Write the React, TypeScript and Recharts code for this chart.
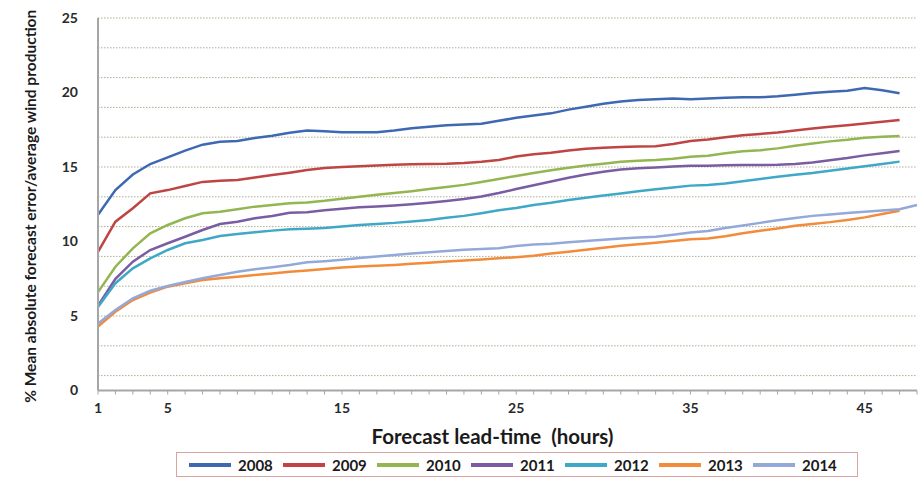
import React from 'react';
import { LineChart, Line, XAxis, YAxis, CartesianGrid, Legend } from 'recharts';

const hours = [1, 2, 3, 4, 5, 6, 7, 8, 9, 10, 11, 12, 13, 14, 15, 16, 17, 18, 19, 20, 21, 22, 23, 24, 25, 26, 27, 28, 29, 30, 31, 32, 33, 34, 35, 36, 37, 38, 39, 40, 41, 42, 43, 44, 45, 46, 47, 48];

const s2008 = [11.8, 13.45, 14.5, 15.2, 15.65, 16.1, 16.5, 16.7, 16.75, 16.95, 17.1, 17.3, 17.45, 17.4, 17.33, 17.33, 17.33, 17.45, 17.6, 17.7, 17.8, 17.85, 17.9, 18.1, 18.3, 18.45, 18.6, 18.85, 19.05, 19.25, 19.4, 19.5, 19.55, 19.6, 19.55, 19.6, 19.65, 19.68, 19.68, 19.75, 19.85, 19.97, 20.05, 20.12, 20.3, 20.15, 19.95, null];
const s2009 = [9.3, 11.33, 12.23, 13.23, 13.45, 13.72, 14.0, 14.08, 14.13, 14.3, 14.46, 14.62, 14.8, 14.93, 15.0, 15.05, 15.1, 15.15, 15.18, 15.2, 15.22, 15.27, 15.35, 15.47, 15.7, 15.85, 15.95, 16.1, 16.22, 16.3, 16.35, 16.38, 16.4, 16.55, 16.75, 16.85, 17.0, 17.13, 17.22, 17.32, 17.45, 17.58, 17.7, 17.8, 17.92, 18.03, 18.15, null];
const s2010 = [6.6, 8.31, 9.54, 10.55, 11.11, 11.56, 11.89, 12.0, 12.16, 12.34, 12.45, 12.56, 12.62, 12.73, 12.87, 13.0, 13.13, 13.25, 13.38, 13.52, 13.65, 13.8, 14.0, 14.2, 14.4, 14.6, 14.78, 14.95, 15.1, 15.22, 15.35, 15.42, 15.47, 15.55, 15.68, 15.75, 15.92, 16.05, 16.12, 16.25, 16.42, 16.58, 16.72, 16.83, 16.97, 17.03, 17.08, null];
const s2011 = [5.7, 7.5, 8.65, 9.43, 9.88, 10.32, 10.77, 11.17, 11.33, 11.56, 11.71, 11.93, 11.97, 12.1, 12.2, 12.3, 12.35, 12.42, 12.5, 12.6, 12.72, 12.85, 13.02, 13.25, 13.52, 13.78, 14.03, 14.28, 14.5, 14.68, 14.83, 14.92, 14.97, 15.03, 15.08, 15.08, 15.12, 15.13, 15.13, 15.15, 15.2, 15.3, 15.45, 15.6, 15.78, 15.93, 16.07, null];
const s2012 = [5.6, 7.2, 8.2, 8.87, 9.43, 9.88, 10.1, 10.37, 10.5, 10.62, 10.73, 10.82, 10.85, 10.9, 11.0, 11.1, 11.18, 11.25, 11.35, 11.45, 11.6, 11.72, 11.9, 12.1, 12.25, 12.45, 12.6, 12.78, 12.93, 13.08, 13.22, 13.38, 13.5, 13.62, 13.75, 13.8, 13.9, 14.05, 14.2, 14.35, 14.48, 14.6, 14.75, 14.9, 15.05, 15.2, 15.36, null];
const s2013 = [4.3, 5.29, 6.07, 6.57, 6.97, 7.19, 7.42, 7.53, 7.64, 7.75, 7.86, 7.97, 8.05, 8.15, 8.25, 8.32, 8.38, 8.43, 8.5, 8.58, 8.65, 8.72, 8.8, 8.87, 8.95, 9.05, 9.2, 9.32, 9.45, 9.58, 9.72, 9.82, 9.92, 10.03, 10.15, 10.2, 10.35, 10.55, 10.72, 10.88, 11.05, 11.18, 11.3, 11.45, 11.62, 11.85, 12.07, null];
const s2014 = [4.5, 5.4, 6.19, 6.7, 7.01, 7.28, 7.53, 7.75, 7.97, 8.13, 8.27, 8.42, 8.6, 8.68, 8.78, 8.9, 9.0, 9.1, 9.2, 9.28, 9.37, 9.45, 9.5, 9.55, 9.7, 9.8, 9.85, 9.95, 10.03, 10.12, 10.2, 10.27, 10.32, 10.45, 10.6, 10.7, 10.9, 11.08, 11.25, 11.42, 11.58, 11.72, 11.82, 11.92, 12.0, 12.08, 12.16, 12.45];

const seriesNames = ['2008', '2009', '2010', '2011', '2012', '2013', '2014'];
const seriesValues = [s2008, s2009, s2010, s2011, s2012, s2013, s2014];
const seriesColors = ['#3F68B2', '#BE4543', '#93B651', '#7A5CA3', '#3FA8C6', '#F28B3A', '#93A9D9'];

const yTicks = [0, 5, 10, 15, 20, 25];
const gridValues = [0, 1, 2, 3, 4, 5, 6, 7, 8, 9, 10, 11, 12, 13, 14, 15, 16, 17, 18, 19, 20, 21, 22, 23, 24, 25];
const xLabelled = [1, 5, 15, 25, 35, 45];

const xTitle = 'Forecast lead-time\u00A0\u00A0(hours)';
const yTitle = '% Mean absolute  forecast error/average wind production';

const data = hours.map((h, i) => {
  const row: Record<string, number | null> = { h };
  seriesNames.forEach((n, k) => {
    row[n] = seriesValues[k][i];
  });
  return row;
});

const FONT = 'Lato, "Open Sans", sans-serif';

const XTick = (props: any) => {
  const { x, y, payload } = props;
  if (!xLabelled.includes(payload.value)) return <g />;
  return (
    <text x={x} y={y} dy={10} textAnchor="middle" fontFamily={FONT} fontWeight={700} fontSize={14} fill="#2a2a2a">
      {payload.value}
    </text>
  );
};

const LegendBox = () => (
  <div
    style={{
      boxSizing: 'border-box',
      width: '100%',
      height: '100%',
      border: '1.5px solid #dba3a0',
      display: 'flex',
      alignItems: 'center',
      paddingLeft: 12,
      fontFamily: FONT,
      fontWeight: 700,
      fontSize: 15,
      color: '#1a1a1a',
    }}
  >
    {seriesNames.map((n, k) => (
      <div key={n} style={{ width: 94, display: 'flex', alignItems: 'center' }}>
        <div style={{ width: 42, height: 4, background: seriesColors[k], marginRight: 7 }} />
        <span>{n}</span>
      </div>
    ))}
  </div>
);

export default function App() {
  return (
    <div style={{ position: 'absolute', left: 0, top: 0, background: '#fff' }}>
      <LineChart width={922} height={478} data={data} margin={{ top: 18, right: 5, left: 0, bottom: 0 }}>
        <CartesianGrid
          horizontal
          vertical={false}
          horizontalValues={gridValues}
          stroke="#aeae94"
          strokeDasharray="1.5 1.5"
        />
        <XAxis
          dataKey="h"
          type="number"
          domain={[1, 48]}
          ticks={hours}
          interval={0}
          height={87.5}
          axisLine={{ stroke: '#a6a6a6', strokeWidth: 2 }}
          tickLine={{ stroke: '#a6a6a6' }}
          tickSize={4}
          tickMargin={8}
          tick={<XTick />}
          label={{
            value: xTitle,
            position: 'insideBottom',
            offset: 34,
            dx: -15,
            style: { fontFamily: FONT, fontWeight: 700, fontSize: 20.5, fill: '#1a1a1a' },
          }}
        />
        <YAxis
          type="number"
          domain={[0, 25]}
          ticks={yTicks}
          width={98}
          axisLine={{ stroke: '#a6a6a6', strokeWidth: 2 }}
          tickLine={false}
          tickMargin={14}
          tick={{ fontFamily: FONT, fontWeight: 700, fontSize: 14, fill: '#2a2a2a' }}
          label={{
            content: (p: any) => {
              const vb = p.viewBox;
              return (
                <text
                  x={vb.x + 30}
                  y={vb.y + vb.height / 2 + 2}
                  transform={`rotate(-90, ${vb.x + 30}, ${vb.y + vb.height / 2 + 2})`}
                  textAnchor="middle"
                  dominantBaseline="central"
                  fontFamily={FONT}
                  fontWeight={700}
                  fontSize={15.5}
                  fill="#1a1a1a"
                >
                  {yTitle}
                </text>
              );
            },
          }}
        />
        <Legend
          layout="horizontal"
          verticalAlign="middle"
          wrapperStyle={{ left: 176, top: 452, width: 682, height: 25 }}
          content={<LegendBox />}
        />
        {seriesNames.map((n, k) => (
          <Line
            key={n}
            type="linear"
            dataKey={n}
            name={n}
            stroke={seriesColors[k]}
            strokeWidth={2.5}
            dot={false}
            activeDot={false}
            isAnimationActive={false}
            connectNulls={false}
          />
        ))}
      </LineChart>
    </div>
  );
}
